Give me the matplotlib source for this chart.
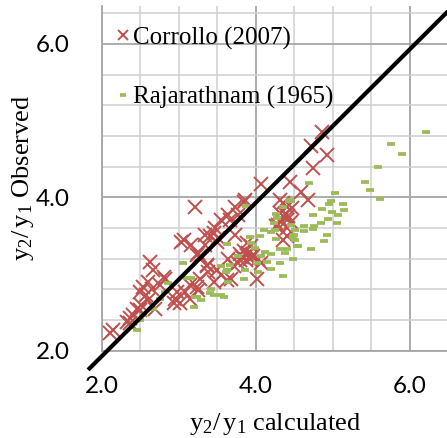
import matplotlib
matplotlib.use("Agg")
import matplotlib.pyplot as plt
from matplotlib.ticker import MultipleLocator

plt.rcParams['mathtext.fontset'] = 'custom'
plt.rcParams['mathtext.rm'] = 'Liberation Serif'
plt.rcParams['mathtext.it'] = 'Liberation Serif:italic'

corrollo_x = [4.86, 4.71, 4.92, 4.74, 4.06, 4.44, 4.59, 4.68, 4.31, 3.21, 3.86, 4.40, 4.47, 4.42, 4.40,
              3.84, 3.73, 3.64, 3.55, 3.47, 3.77, 3.73, 3.51, 3.40, 3.34, 3.25, 3.88, 3.82, 3.90, 3.85,
              3.92, 3.80, 3.95, 3.87, 3.94, 3.77, 3.64, 3.55, 3.68, 4.03, 4.07, 3.38, 3.27, 3.45, 3.25,
              2.62, 2.67, 2.60, 2.54, 2.65, 2.49, 2.57, 2.60, 2.51, 2.41, 2.36, 2.32, 2.15, 2.10, 2.82,
              2.97, 2.95, 3.01, 3.14, 3.14, 3.23, 2.45, 2.69, 3.06, 3.16, 3.27, 3.36, 3.45, 2.80, 3.08,
              2.93, 2.75, 3.49, 3.34, 3.03, 3.23, 3.36, 3.62, 4.01, 3.66, 4.31, 4.40, 4.35, 4.26, 3.88,
              3.96, 3.79, 3.71, 3.49, 2.49, 2.36, 4.38, 4.32, 4.46, 4.29, 4.40, 4.35]
corrollo_y = [4.85, 4.67, 4.55, 4.38, 4.18, 4.20, 4.07, 3.96, 3.96, 3.88, 3.96, 3.88, 3.86, 3.75, 3.49,
              3.94, 3.88, 3.77, 3.70, 3.60, 3.77, 3.51, 3.47, 3.49, 3.38, 3.27, 3.25, 3.22, 3.28, 3.30,
              3.20, 3.26, 3.24, 3.18, 3.36, 3.14, 3.20, 2.99, 2.94, 3.20, 3.14, 3.03, 2.94, 2.90, 2.79,
              3.16, 3.05, 2.90, 2.83, 2.81, 2.77, 2.73, 2.66, 2.60, 2.47, 2.42, 2.38, 2.27, 2.23, 2.94,
              2.77, 2.68, 2.62, 2.86, 2.68, 2.83, 2.55, 2.55, 3.44, 3.38, 3.23, 3.12, 3.53, 2.96, 2.77,
              2.62, 2.86, 3.42, 3.51, 3.42, 3.25, 3.10, 2.92, 2.94, 3.70, 3.79, 3.70, 3.44, 3.62, 3.40,
              3.23, 3.18, 3.10, 3.05, 2.53, 2.36, 3.78, 3.70, 3.68, 3.64, 3.60, 3.93]

raja_x = [6.21, 5.75, 5.90, 5.58, 5.42, 5.48, 5.61, 4.69, 5.03, 4.44, 4.98, 5.13, 4.86, 5.15, 4.99,
          5.07, 4.74, 4.94, 5.05, 4.85, 4.75, 4.63, 4.74, 4.63, 4.92, 4.50, 4.48, 4.88, 4.55, 4.71,
          4.40, 4.48, 3.87, 4.35, 4.45, 4.26, 4.27, 4.24, 4.46, 4.10, 4.25, 4.51, 4.05, 4.48, 3.92,
          4.26, 4.51, 3.63, 4.53, 3.99, 4.31, 4.12, 4.38, 4.20, 4.07, 4.31, 4.14, 4.01, 3.66, 3.55,
          4.20, 3.86, 3.61, 4.03, 4.35, 3.84, 3.64, 3.42, 3.40, 3.55, 3.77, 3.94, 4.20, 3.05, 3.16,
          2.86, 2.75, 2.82, 2.67, 2.54, 2.49, 2.45, 3.19, 3.23, 3.45, 3.58, 3.29, 3.21, 3.10, 3.62,
          4.95, 4.54, 4.43]
raja_y = [4.85, 4.69, 4.56, 4.39, 4.20, 4.10, 3.98, 4.19, 4.06, 3.96, 3.95, 3.91, 3.85, 3.83, 3.81,
          3.77, 3.77, 3.72, 3.66, 3.66, 3.63, 3.62, 3.59, 3.56, 3.51, 3.51, 3.47, 3.43, 3.37, 3.33,
          3.33, 3.20, 3.89, 3.87, 3.95, 3.78, 3.73, 3.66, 3.64, 3.57, 3.57, 3.57, 3.50, 3.50, 3.48,
          3.45, 3.44, 3.39, 3.37, 3.34, 3.33, 3.29, 3.28, 3.26, 3.23, 3.15, 3.16, 3.15, 3.12, 3.11,
          3.07, 3.05, 3.03, 3.02, 2.97, 2.93, 2.89, 2.80, 2.75, 2.72, 3.23, 3.40, 3.55, 3.15, 2.95,
          2.88, 2.68, 2.77, 2.55, 2.47, 2.40, 2.27, 2.57, 2.70, 2.73, 2.70, 2.66, 2.70, 2.95, 3.05,
          3.91, 3.36, 3.95]

line_x = [1.82, 6.62]
line_y = [1.75, 6.55]

x_ticks = [2.0, 4.0, 6.0]
y_ticks = [2.0, 4.0, 6.0]
tick_labels = ["2.0", "4.0", "6.0"]

red = "#C0504D"
green = "#9BBB59"

fig = plt.figure(figsize=(4.47, 4.38), dpi=100)
ax = fig.add_axes([0.228, 0.1993, 0.775, 0.788])

ax.plot(corrollo_x, corrollo_y, ls='none', marker='x', ms=10.5, mew=1.4,
        color=red, label="Corrollo (2007)", zorder=3)
ax.plot(raja_x, raja_y, ls='none', marker='_', ms=6.0, mew=2.7,
        color=green, label="Rajarathnam (1965)", zorder=3)
ax.plot(line_x, line_y, color='black', lw=3.0, clip_on=False, zorder=5,
        solid_capstyle='butt')

ax.set_xlim(2.0, 6.5)
ax.set_ylim(2.0, 6.5)
ax.set_xticks(x_ticks)
ax.set_xticklabels(tick_labels)
ax.set_yticks(y_ticks)
ax.set_yticklabels(tick_labels)
ax.xaxis.set_minor_locator(MultipleLocator(0.5))
ax.yaxis.set_minor_locator(MultipleLocator(0.4))
ax.grid(which='major', color='#A6A6A6', lw=1.3, zorder=0)
ax.grid(which='minor', color='#CFCFCF', lw=1.1, zorder=0)
ax.set_axisbelow(True)
ax.tick_params(which='both', length=0)
ax.tick_params(axis='x', pad=18)
ax.tick_params(axis='y', pad=23)
for lab in ax.get_xticklabels() + ax.get_yticklabels():
    lab.set_fontfamily('Lato')
    lab.set_fontsize(17.5)
for s in ['top', 'right']:
    ax.spines[s].set_visible(False)
for s in ['left', 'bottom']:
    ax.spines[s].set_color('#A6A6A6')
    ax.spines[s].set_linewidth(1.3)

ax.set_xlabel(r"$\mathrm{y_2/\,y_1}$ calculated", fontfamily='Liberation Serif',
              fontsize=19, labelpad=10)
ax.set_ylabel(r"$\mathrm{y_2/\,y_1}$ Observed", fontfamily='Liberation Serif',
              fontsize=19, labelpad=0)

leg = ax.legend(loc='upper left', bbox_to_anchor=(-0.012, 0.99), frameon=False,
                prop={'family': 'Liberation Serif', 'size': 18},
                handlelength=0.6, handletextpad=0.12, labelspacing=1.45,
                markerscale=0.75, borderaxespad=0.3)

fig.savefig("out.png", dpi=100)
